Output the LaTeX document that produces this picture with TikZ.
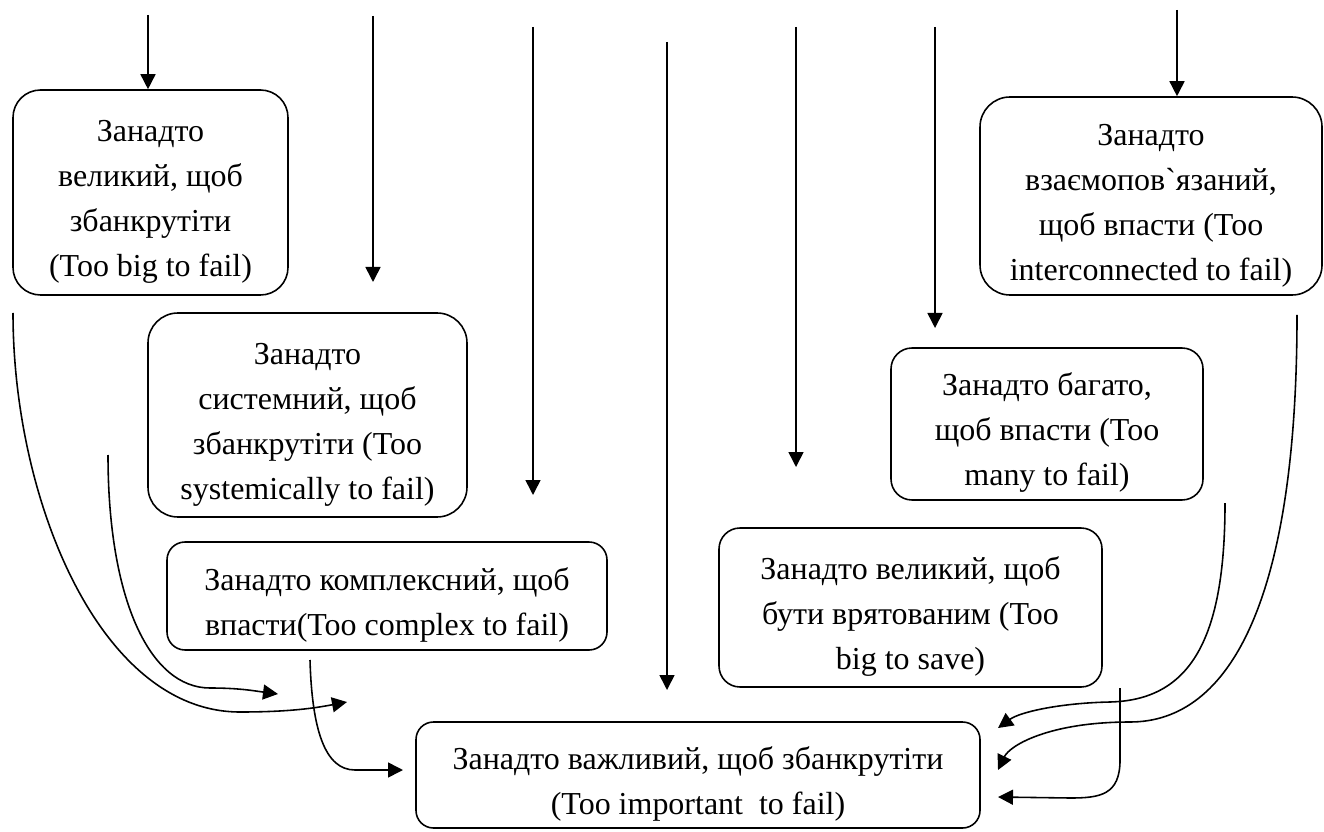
\documentclass[tikz,border=0pt]{standalone}
\usepackage{fontspec}
\setmainfont{Liberation Serif}
\newfontfamily\ukrfont{Liberation Serif}
\usepackage{tikz}
\usetikzlibrary{arrows.meta}
\newcommand\lowtext{\rule{0pt}{0.8cm}}

\begin{document}
\begin{tikzpicture}[
    box/.style={draw, line width=0.9pt, align=center, inner sep=0pt,
      font=\ukrfont\fontsize{18.2}{25.6}\selectfont},
    arr/.style={line width=0.9pt, -{Triangle[length=0.3cm, width=0.3cm]}}
  ]
    \useasboundingbox (0,0) rectangle (26.48,16.62);

    \node[box, rounded corners=0.55cm, minimum width=5.5cm, minimum height=4.1cm] (bigfail) at (3.01,12.77)
      {\lowtext Занадто\\великий, щоб\\збанкрутіти\\(Too big to fail)};
    \node[box, rounded corners=0.6cm, minimum width=6.38cm, minimum height=4.08cm] (systfail) at (6.15,8.32)
      {\lowtext Занадто\\системний, щоб\\збанкрутіти (Too\\systemically to fail)};
    \node[box, rounded corners=0.36cm, minimum width=8.8cm, minimum height=2.16cm] (complfail) at (7.74,4.70)
      {\lowtext Занадто комплексний, щоб\\впасти(Too complex to fail)};
    \node[box, rounded corners=0.42cm, minimum width=7.66cm, minimum height=3.18cm] (bigsave) at (18.21,4.47)
      {\lowtext Занадто великий, щоб\\бути врятованим (Too\\big to save)};
    \node[box, rounded corners=0.42cm, minimum width=6.24cm, minimum height=3.04cm] (manyfail) at (20.94,8.14)
      {\lowtext Занадто багато,\\щоб впасти (Too\\many to fail)};
    \node[box, rounded corners=0.6cm, minimum width=6.84cm, minimum height=3.96cm] (interfail) at (23.02,12.70)
      {\lowtext Занадто\\взаємопов`язаний,\\щоб впасти (Too\\interconnected to fail)};
    \node[box, rounded corners=0.35cm, minimum width=11.28cm, minimum height=2.12cm] (impfail) at (13.96,1.12)
      {\lowtext Занадто важливий, щоб збанкрутіти\\(Too important\ \ to fail)};

    \coordinate (v1) at (2.96,16.32);
    \coordinate (v2a) at (7.46,16.30);  \coordinate (v2b) at (7.46,10.98);
    \coordinate (v3a) at (10.66,16.08); \coordinate (v3b) at (10.66,6.72);
    \coordinate (v4a) at (13.34,15.78); \coordinate (v4b) at (13.34,2.82);
    \coordinate (v5a) at (15.92,16.08); \coordinate (v5b) at (15.92,7.28);
    \coordinate (v6a) at (18.70,16.08); \coordinate (v6b) at (18.70,10.06);
    \coordinate (v7) at (23.54,16.42);
    \draw[arr] (v1) -- (v1 |- bigfail.north);
    \draw[arr] (v2a) -- (v2b);
    \draw[arr] (v3a) -- (v3b);
    \draw[arr] (v4a) -- (v4b);
    \draw[arr] (v5a) -- (v5b);
    \draw[arr] (v6a) -- (v6b);
    \draw[arr] (v7) -- (v7 |- interfail.north);

    \coordinate (l1s) at (0.26,10.36); \coordinate (l1e) at (6.94,2.58);
    \coordinate (l2s) at (2.16,7.52);  \coordinate (l2e) at (5.56,2.74);
    \coordinate (l3s) at (6.20,3.42);  \coordinate (l3e) at (8.06,1.22);
    \draw[arr] (l1s) .. controls (0.26,6.62) and (2.0,2.38) .. (4.8,2.38)
      .. controls (5.8,2.38) and (6.3,2.46) .. (l1e);
    \draw[arr] (l2s) .. controls (2.16,4.62) and (3.0,2.86) .. (4.2,2.86)
      .. controls (4.8,2.86) and (5.1,2.80) .. (l2e);
    \draw[arr] (l3s) .. controls (6.24,2.02) and (6.5,1.22) .. (7.1,1.22) -- (l3e);

    \coordinate (r1s) at (25.94,10.32); \coordinate (r1e) at (19.96,1.22);
    \coordinate (r2s) at (24.50,6.56);  \coordinate (r2e) at (19.96,2.06);
    \coordinate (r3s) at (22.40,2.86);  \coordinate (r3e) at (19.96,0.68);
    \draw[arr] (r1s) .. controls (25.94,4.62) and (24.6,2.18) .. (22.6,2.18)
      .. controls (21.0,2.18) and (20.2,1.72) .. (r1e);
    \draw[arr] (r2s) .. controls (24.5,3.82) and (23.8,2.62) .. (22.2,2.58)
      .. controls (21.2,2.56) and (20.4,2.38) .. (r2e);
    \draw[arr] (r3s) -- (22.4,1.42) .. controls (22.4,0.72) and (22.0,0.66) .. (21.4,0.66) -- (r3e);
  \end{tikzpicture}
\end{document}
